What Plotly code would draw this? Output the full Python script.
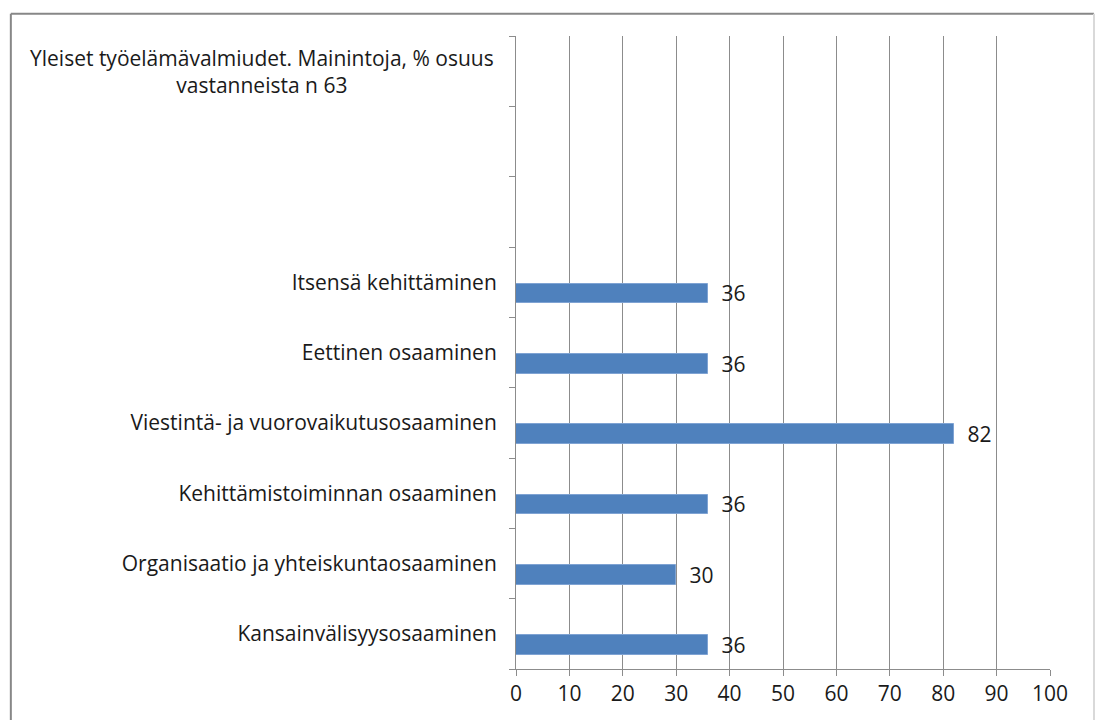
import plotly.graph_objects as go

categories = [
    "Kansainvälisyysosaaminen",
    "Organisaatio ja yhteiskuntaosaaminen",
    "Kehittämistoiminnan osaaminen",
    "Viestintä- ja vuorovaikutusosaaminen",
    "Eettinen osaaminen",
    "Itsensä kehittäminen",
    " ",
    "  ",
    "Yleiset",
]
values = [36, 30, 36, 82, 36, 36, None, None, None]
tick_labels = [
    "Kansainvälisyysosaaminen",
    "Organisaatio ja yhteiskuntaosaaminen",
    "Kehittämistoiminnan osaaminen",
    "Viestintä- ja vuorovaikutusosaaminen",
    "Eettinen osaaminen",
    "Itsensä kehittäminen",
    "",
    "",
    "",
]
title_text = "Yleiset työelämävalmiudet. Mainintoja, % osuus<br>vastanneista n 63"

FONT = "Open Sans"
FS = 21
TXT = "#1a1a1a"
fig = go.Figure()
fig.add_trace(go.Bar(
    y=categories, x=values, orientation="h",
    width=0.28, offset=-0.30,
    marker=dict(color="#4F81BD", line=dict(color="#7FA3D3", width=1)),
    texttemplate="\u00a0\u00a0%{x}",
    textposition="outside", cliponaxis=False, constraintext="none",
    textfont=dict(family=FONT, size=FS, color=TXT),
    hoverinfo="skip",
))

fig.update_layout(
    width=1095, height=720,
    margin=dict(l=516, r=45, t=36, b=51),
    paper_bgcolor="white", plot_bgcolor="white",
    showlegend=False,
    bargap=0,
    font=dict(family=FONT, size=FS, color=TXT),
)
fig.update_xaxes(
    range=[0, 100], dtick=10, tick0=0,
    showgrid=True, gridcolor="#8C8C8C", gridwidth=1,
    showline=True, linecolor="#8C8C8C", linewidth=1,
    ticks="outside", ticklen=6, tickcolor="#8C8C8C",
    tickfont=dict(family=FONT, size=FS, color=TXT),
    zeroline=False, fixedrange=True,
)
fig.update_yaxes(
    type="category", categoryorder="array", categoryarray=categories,
    tickmode="array", tickvals=categories, ticktext=tick_labels,
    tickson="boundaries", ticks="outside", ticklen=6, tickcolor="#8C8C8C",
    showline=True, linecolor="#8C8C8C", linewidth=1,
    showgrid=False, ticklabelstandoff=14,
    tickfont=dict(family=FONT, size=FS, color=TXT),
    fixedrange=True,
)
fig.add_annotation(
    text=title_text, xref="paper", yref="y", x=-0.476, y="Yleiset",
    xanchor="center", yanchor="middle", align="center", showarrow=False,
    font=dict(family=FONT, size=FS, color=TXT),
)
# outer chart border (top and left dark, right edge faint)
fig.add_shape(type="line", xref="paper", yref="paper",
              x0=-0.946, x1=1.0824, y0=1.035, y1=1.035,
              line=dict(color="#878787", width=2), layer="below")
fig.add_shape(type="line", xref="paper", yref="paper",
              x0=-0.946, x1=-0.946, y0=-0.2, y1=1.035,
              line=dict(color="#878787", width=2), layer="below")
fig.add_shape(type="line", xref="paper", yref="paper",
              x0=1.0824, x1=1.0824, y0=-0.2, y1=1.035,
              line=dict(color="#D9D9D9", width=2), layer="below")

fig.write_html("out.html", config={"displayModeBar": False},
               post_script="document.body.style.margin='0';")
